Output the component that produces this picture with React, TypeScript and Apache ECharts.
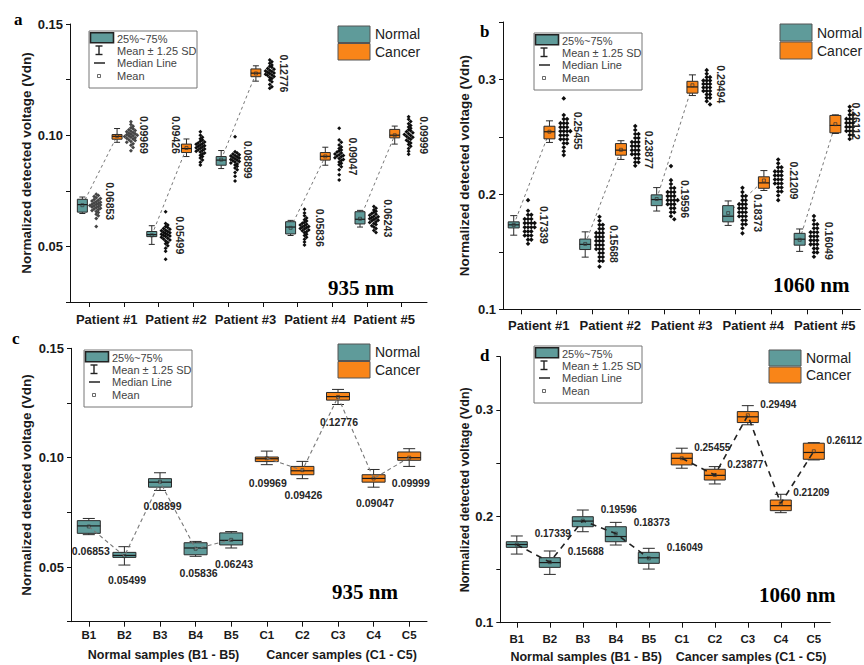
import React, { useEffect, useRef } from 'react';
import * as echarts from 'echarts';

// ---------------- data ----------------
const patientLabels = ['Patient #1', 'Patient #2', 'Patient #3', 'Patient #4', 'Patient #5'];
const normalSampleLabels = ['B1', 'B2', 'B3', 'B4', 'B5'];
const cancerSampleLabels = ['C1', 'C2', 'C3', 'C4', 'C5'];
const sampleGroupLabels = ['Normal samples (B1 - B5)', 'Cancer samples (C1 - C5)'];
const wavelengthLabels = ['935 nm', '1060 nm'];
const legendLabels = ['Normal', 'Cancer'];
const boxLegendLabels = ['25%~75%', 'Mean \u00b1 1.25 SD', 'Median Line', 'Mean'];
const panelLetters = ['a', 'b', 'c', 'd'];
const yAxisTitle = 'Normalized detected voltage (Vdn)';

const mean935Normal = [0.06853, 0.05499, 0.08899, 0.05836, 0.06243];
const mean935Cancer = [0.09969, 0.09426, 0.12776, 0.09047, 0.09999];
const mean1060Normal = [0.17339, 0.15688, 0.19596, 0.18373, 0.16049];
const mean1060Cancer = [0.25455, 0.23877, 0.29494, 0.21209, 0.26112];

// [mean - 1.25 SD, Q1, median, Q3, mean + 1.25 SD]
const box935Normal = [
  [0.0648, 0.0654, 0.0688, 0.0712, 0.0722],
  [0.0509, 0.0544, 0.0553, 0.0567, 0.0593],
  [0.0850, 0.0865, 0.0888, 0.0904, 0.0931],
  [0.0549, 0.0556, 0.0587, 0.0611, 0.0617],
  [0.0587, 0.0601, 0.0622, 0.0656, 0.0662],
];
const box935Cancer = [
  [0.0968, 0.0982, 0.0995, 0.1003, 0.1030],
  [0.0904, 0.0922, 0.0940, 0.0960, 0.0983],
  [0.1243, 0.1263, 0.1279, 0.1298, 0.1312],
  [0.0865, 0.0888, 0.0905, 0.0922, 0.0946],
  [0.0960, 0.0988, 0.1000, 0.1026, 0.1041],
];
const box1060Normal = [
  [0.1645, 0.1708, 0.1735, 0.1761, 0.1815],
  [0.1454, 0.1520, 0.1565, 0.1611, 0.1674],
  [0.1855, 0.1902, 0.1955, 0.1996, 0.2059],
  [0.1730, 0.1761, 0.1810, 0.1902, 0.1943],
  [0.1504, 0.1558, 0.1610, 0.1661, 0.1699],
];
const box1060Cancer = [
  [0.2452, 0.2483, 0.2545, 0.2593, 0.2640],
  [0.2304, 0.2341, 0.2385, 0.2442, 0.2467],
  [0.2860, 0.2881, 0.2935, 0.2984, 0.3040],
  [0.2034, 0.2053, 0.2100, 0.2153, 0.2207],
  [0.2530, 0.2536, 0.2600, 0.2687, 0.2692],
];

// individual measurements (panels a, b)
const cloud935Normal = [
  [0.0589, 0.0625, 0.0638, 0.0645, 0.0652, 0.0657, 0.0661, 0.0665, 0.0668, 0.0671, 0.0674, 0.0677, 0.0679, 0.0682, 0.0684, 0.0686, 0.0688, 0.0690, 0.0693, 0.0695, 0.0698, 0.0701, 0.0704, 0.0707, 0.0711, 0.0715, 0.0719, 0.0724, 0.0729, 0.0734],
  [0.0442, 0.0478, 0.0492, 0.0503, 0.0512, 0.0518, 0.0524, 0.0529, 0.0533, 0.0537, 0.0541, 0.0544, 0.0547, 0.0550, 0.0552, 0.0555, 0.0558, 0.0561, 0.0564, 0.0567, 0.0570, 0.0573, 0.0577, 0.0581, 0.0585, 0.0590, 0.0596, 0.0603, 0.0656],
  [0.0794, 0.0815, 0.0832, 0.0845, 0.0853, 0.0860, 0.0866, 0.0871, 0.0875, 0.0879, 0.0882, 0.0885, 0.0888, 0.0891, 0.0894, 0.0897, 0.0900, 0.0903, 0.0906, 0.0909, 0.0912, 0.0916, 0.0920, 0.0926, 0.0993],
  [0.0506, 0.0520, 0.0532, 0.0541, 0.0549, 0.0555, 0.0561, 0.0566, 0.0570, 0.0574, 0.0578, 0.0581, 0.0584, 0.0587, 0.0590, 0.0593, 0.0596, 0.0600, 0.0604, 0.0609, 0.0614, 0.0620, 0.0628, 0.0638, 0.0650, 0.0667],
  [0.0563, 0.0572, 0.0580, 0.0587, 0.0593, 0.0598, 0.0603, 0.0607, 0.0611, 0.0615, 0.0618, 0.0621, 0.0624, 0.0627, 0.0630, 0.0633, 0.0636, 0.0640, 0.0644, 0.0648, 0.0653, 0.0658, 0.0664, 0.0671, 0.0679],
];
const cloud935Cancer = [
  [0.0930, 0.0945, 0.0955, 0.0962, 0.0968, 0.0972, 0.0976, 0.0980, 0.0983, 0.0986, 0.0989, 0.0991, 0.0994, 0.0996, 0.0998, 0.1000, 0.1002, 0.1004, 0.1007, 0.1009, 0.1012, 0.1015, 0.1018, 0.1021, 0.1025, 0.1029, 0.1034, 0.1040, 0.1048, 0.1061],
  [0.0866, 0.0878, 0.0889, 0.0897, 0.0904, 0.0910, 0.0915, 0.0920, 0.0924, 0.0928, 0.0931, 0.0935, 0.0938, 0.0941, 0.0944, 0.0947, 0.0950, 0.0953, 0.0956, 0.0959, 0.0962, 0.0965, 0.0969, 0.0973, 0.0978, 0.0984, 0.0991, 0.1000, 0.1016],
  [0.1211, 0.1218, 0.1228, 0.1240, 0.1248, 0.1255, 0.1260, 0.1264, 0.1268, 0.1271, 0.1274, 0.1277, 0.1280, 0.1283, 0.1286, 0.1289, 0.1292, 0.1296, 0.1300, 0.1305, 0.1310, 0.1316, 0.1323, 0.1330, 0.1338],
  [0.0799, 0.0822, 0.0845, 0.0858, 0.0867, 0.0874, 0.0880, 0.0886, 0.0891, 0.0895, 0.0899, 0.0903, 0.0906, 0.0909, 0.0912, 0.0916, 0.0920, 0.0924, 0.0929, 0.0934, 0.0940, 0.0947, 0.0956, 0.0968, 0.0978, 0.1031],
  [0.0914, 0.0928, 0.0940, 0.0950, 0.0958, 0.0965, 0.0971, 0.0977, 0.0982, 0.0987, 0.0991, 0.0995, 0.0999, 0.1003, 0.1007, 0.1011, 0.1015, 0.1020, 0.1025, 0.1031, 0.1037, 0.1044, 0.1052, 0.1062, 0.1072, 0.1083],
];
const cloud1060Normal = [
  [0.1950, 0.1857, 0.1822, 0.1822, 0.1786, 0.1786, 0.1786, 0.1750, 0.1750, 0.1750, 0.1750, 0.1714, 0.1714, 0.1714, 0.1714, 0.1678, 0.1678, 0.1678, 0.1642, 0.1642, 0.1642, 0.1606, 0.1606, 0.1570],
  [0.1805, 0.1770, 0.1735, 0.1735, 0.1700, 0.1700, 0.1665, 0.1665, 0.1665, 0.1630, 0.1630, 0.1630, 0.1595, 0.1595, 0.1595, 0.1560, 0.1560, 0.1560, 0.1525, 0.1525, 0.1525, 0.1490, 0.1490, 0.1455, 0.1455, 0.1420, 0.1420, 0.1371],
  [0.2246, 0.2124, 0.2090, 0.2055, 0.2055, 0.2020, 0.2020, 0.2020, 0.1985, 0.1985, 0.1985, 0.1950, 0.1950, 0.1950, 0.1950, 0.1915, 0.1915, 0.1915, 0.1880, 0.1880, 0.1845, 0.1845, 0.1810, 0.1783],
  [0.2057, 0.2020, 0.1985, 0.1985, 0.1950, 0.1950, 0.1915, 0.1915, 0.1915, 0.1880, 0.1880, 0.1880, 0.1845, 0.1845, 0.1845, 0.1810, 0.1810, 0.1810, 0.1775, 0.1775, 0.1740, 0.1740, 0.1705, 0.1661],
  [0.1811, 0.1775, 0.1740, 0.1740, 0.1705, 0.1705, 0.1670, 0.1670, 0.1670, 0.1635, 0.1635, 0.1635, 0.1600, 0.1600, 0.1600, 0.1565, 0.1565, 0.1565, 0.1530, 0.1530, 0.1495, 0.1495, 0.1457],
];
const cloud1060Cancer = [
  [0.2835, 0.2690, 0.2655, 0.2655, 0.2620, 0.2620, 0.2620, 0.2585, 0.2585, 0.2585, 0.2550, 0.2550, 0.2550, 0.2550, 0.2515, 0.2515, 0.2515, 0.2480, 0.2480, 0.2480, 0.2445, 0.2445, 0.2410, 0.2375, 0.2342],
  [0.2594, 0.2560, 0.2525, 0.2525, 0.2490, 0.2490, 0.2455, 0.2455, 0.2455, 0.2420, 0.2420, 0.2420, 0.2385, 0.2385, 0.2385, 0.2350, 0.2350, 0.2350, 0.2315, 0.2315, 0.2280, 0.2280, 0.2249],
  [0.3081, 0.3050, 0.3020, 0.3020, 0.2990, 0.2990, 0.2990, 0.2960, 0.2960, 0.2960, 0.2930, 0.2930, 0.2930, 0.2900, 0.2900, 0.2900, 0.2870, 0.2870, 0.2840, 0.2840, 0.2810, 0.2783],
  [0.2304, 0.2270, 0.2235, 0.2235, 0.2200, 0.2200, 0.2200, 0.2165, 0.2165, 0.2165, 0.2130, 0.2130, 0.2130, 0.2095, 0.2095, 0.2095, 0.2060, 0.2060, 0.2025, 0.2025, 0.1990, 0.1950],
  [0.2762, 0.2727, 0.2692, 0.2692, 0.2657, 0.2657, 0.2657, 0.2622, 0.2622, 0.2622, 0.2587, 0.2587, 0.2587, 0.2552, 0.2552, 0.2552, 0.2517, 0.2517, 0.2482],
];

// ---------------- styles ----------------
const SANS = '"Liberation Sans", Arial, Helvetica, sans-serif';
const SERIF = '"Liberation Serif", "Times New Roman", serif';
const TEAL = '#5f9b9a';
const ORANGE = '#f98518';
const INK = '#1a1a1a';

// label pixel offsets from the (box, mean) anchor
const labelOffsetA = [[28, -4], [27, -1], [28, 0], [-10, -13], [27, 0], [28, 0], [29, 0], [28, 0], [28, -0.5], [29, 0]];
const labelOffsetB = [[30, 0], [29, -1], [29, 0], [28, 0], [28.5, 0], [29, -1], [30, 0], [30, 0], [29, 1], [21, -3]];
const labelOffsetC = [[2, 24.5], [2.6, 24], [2.5, 24.3], [3, 24.6], [2.8, 24.5], [1, 25], [1, 24.8], [1, 24.8], [1.4, 24.8], [1.6, 25.6]];
const labelOffsetD = [[36, -11], [36, -11], [36, -11], [36, -11], [36, -11], [30.5, -11], [30.5, -11], [30.5, -11], [30.5, -11], [30.5, -11]];

// ---------------- helpers ----------------
function swarm(ys: number[], step: number, minDist: number): number[] {
  const order = ys.map((_, i) => i).sort((a, b) => ys[a] - ys[b]);
  const placed: { x: number; y: number }[] = [];
  const xs = new Array(ys.length).fill(0);
  for (const i of order) {
    const y = ys[i];
    for (let k = 0; k < 60; k++) {
      const off = k === 0 ? 0 : (k % 2 === 1 ? 1 : -1) * Math.ceil(k / 2) * step;
      let ok = true;
      for (const p of placed) {
        const dx = p.x - off;
        const dy = p.y - y;
        if (dx * dx + dy * dy < minDist * minDist - 1e-6) { ok = false; break; }
      }
      if (ok) { xs[i] = off; placed.push({ x: off, y }); break; }
    }
  }
  return xs;
}

function boxRenderer(boxW: number, capW: number) {
  return (params: any, api: any) => {
    const x = api.value(0);
    const pWl = api.coord([x, api.value(1)]);
    const pQ1 = api.coord([x, api.value(2)]);
    const pMed = api.coord([x, api.value(3)]);
    const pQ3 = api.coord([x, api.value(4)]);
    const pWh = api.coord([x, api.value(5)]);
    const pMean = api.coord([x, api.value(6)]);
    const cx = pQ1[0];
    const fill = api.value(7) === 0 ? TEAL : ORANGE;
    const ln = { stroke: '#2a2a2a', lineWidth: 1 };
    return {
      type: 'group',
      children: [
        { type: 'line', shape: { x1: cx, y1: pWh[1], x2: cx, y2: pQ3[1] }, style: ln },
        { type: 'line', shape: { x1: cx, y1: pQ1[1], x2: cx, y2: pWl[1] }, style: ln },
        { type: 'line', shape: { x1: cx - capW / 2, y1: pWh[1], x2: cx + capW / 2, y2: pWh[1] }, style: ln },
        { type: 'line', shape: { x1: cx - capW / 2, y1: pWl[1], x2: cx + capW / 2, y2: pWl[1] }, style: ln },
        { type: 'rect', shape: { x: cx - boxW / 2, y: pQ3[1], width: boxW, height: pQ1[1] - pQ3[1] }, style: { fill, stroke: '#2a2a2a', lineWidth: 1 } },
        { type: 'line', shape: { x1: cx - boxW / 2, y1: pMed[1], x2: cx + boxW / 2, y2: pMed[1] }, style: { stroke: '#1a1a1a', lineWidth: 1.2 } },
        { type: 'rect', shape: { x: cx - 1.5, y: pMean[1] - 1.5, width: 3, height: 3 }, style: { fill: 'none', stroke: '#333', lineWidth: 0.7 } },
      ],
    };
  };
}

function cloudRenderer(clouds: number[][], colors: string[], size: number, step: number, minDist: number) {
  return (params: any, api: any) => {
    const x = api.value(0);
    const vals = clouds[params.dataIndex];
    const pts = vals.map((v) => api.coord([x, v]));
    const offs = swarm(pts.map((p: number[]) => p[1]), step, minDist);
    const r = size / 2;
    return {
      type: 'group',
      children: pts.map((p: number[], i: number) => {
        const px = p[0] + offs[i];
        const py = p[1];
        return {
          type: 'polygon',
          shape: { points: [[px, py - r], [px + r, py], [px, py + r], [px - r, py]] },
          style: { fill: colors[params.dataIndex] },
        };
      }),
    };
  };
}

function labelRenderer(offsets: number[][], rotation: number, fontSize: number) {
  return (params: any, api: any) => {
    const v = api.value(1);
    const p = api.coord([api.value(0), v]);
    const o = offsets[params.dataIndex];
    return {
      type: 'text',
      x: p[0] + o[0],
      y: p[1] + o[1],
      rotation,
      style: {
        text: Number(v).toFixed(5),
        fill: '#262626',
        fontSize,
        fontWeight: 'bold',
        fontFamily: SANS,
        align: 'center',
        verticalAlign: 'middle',
        textAlign: 'center',
        textVerticalAlign: 'middle',
      },
    };
  };
}

const yFormatter = (step: number, digits: number) => (v: number) =>
  Math.round(v / step) % 2 === 0 ? v.toFixed(digits) : '';

const tickPositions = Array.from({ length: 10 }, (_, i) => i + 0.5);
const pairCenters = Array.from({ length: 5 }, (_, i) => 2 * i + 1);

function txt(text: string, x: number, y: number, font: string, fill: string, align = 'left') {
  return {
    type: 'text',
    x,
    y,
    silent: true,
    style: { text, font, fill, align, verticalAlign: 'middle', textAlign: align, textVerticalAlign: 'middle' },
  };
}

function boxLegend(x0: number, y0: number) {
  const f = `11px ${SANS}`;
  const c = '#444';
  return [
    { type: 'rect', shape: { x: x0, y: y0, width: 108, height: 57 }, style: { fill: '#fff', stroke: '#777', lineWidth: 1 } },
    { type: 'rect', shape: { x: x0 + 1.5, y: y0 + 1.8, width: 23, height: 10 }, style: { fill: TEAL, stroke: '#222', lineWidth: 1.6 } },
    txt(boxLegendLabels[0], x0 + 28, y0 + 7.5, f, c),
    { type: 'line', shape: { x1: x0 + 10, y1: y0 + 15, x2: x0 + 10, y2: y0 + 23.5 }, style: { stroke: '#222', lineWidth: 1.4 } },
    { type: 'line', shape: { x1: x0 + 6.5, y1: y0 + 15, x2: x0 + 13.5, y2: y0 + 15 }, style: { stroke: '#222', lineWidth: 1.4 } },
    { type: 'line', shape: { x1: x0 + 6.5, y1: y0 + 23.5, x2: x0 + 13.5, y2: y0 + 23.5 }, style: { stroke: '#222', lineWidth: 1.4 } },
    txt(boxLegendLabels[1], x0 + 28, y0 + 19.5, f, c),
    { type: 'line', shape: { x1: x0 + 5, y1: y0 + 32, x2: x0 + 16, y2: y0 + 32 }, style: { stroke: '#222', lineWidth: 1.5 } },
    txt(boxLegendLabels[2], x0 + 28, y0 + 32, f, c),
    { type: 'rect', shape: { x: x0 + 8.5, y: y0 + 43.5, width: 3, height: 3 }, style: { fill: 'none', stroke: '#444', lineWidth: 0.8 } },
    txt(boxLegendLabels[3], x0 + 28, y0 + 45, f, c),
  ];
}

function groupLegend(x0: number, y0: number, h: number) {
  const f = `14px ${SANS}`;
  return [
    { type: 'rect', shape: { x: x0, y: y0, width: 32, height: h }, style: { fill: TEAL, stroke: '#555', lineWidth: 1 } },
    { type: 'rect', shape: { x: x0, y: y0 + h + 1, width: 32, height: h }, style: { fill: ORANGE, stroke: '#555', lineWidth: 1 } },
    txt(legendLabels[0], x0 + 37, y0 + h / 2, f, '#222'),
    txt(legendLabels[1], x0 + 37, y0 + h * 1.5 + 1, f, '#222'),
  ];
}

function yAxisCfg(gridIndex: number, min: number, max: number, interval: number, digits: number, nameGap: number, nameSize: number) {
  return {
    gridIndex,
    type: 'value',
    min,
    max,
    interval,
    name: yAxisTitle,
    nameLocation: 'middle',
    nameGap,
    nameTextStyle: { fontSize: nameSize, fontWeight: 'bold', fontFamily: SANS, color: INK },
    axisLine: { show: true, onZero: false, lineStyle: { color: '#111', width: 1 } },
    axisTick: { show: true, inside: false, length: 4, lineStyle: { color: '#111' } },
    axisLabel: { formatter: yFormatter(interval, digits), margin: 7, fontSize: 13, fontWeight: 'bold', fontFamily: SANS, color: INK },
    splitLine: { show: false },
  };
}

function xAxisCfg(gridIndex: number, min: number, max: number, labelValues: number[], formatter: (v: number) => string, margin: number, fontSize: number) {
  return {
    gridIndex,
    type: 'value',
    min,
    max,
    splitLine: { show: false },
    axisLine: { show: true, onZero: false, lineStyle: { color: '#111', width: 1 } },
    axisTick: { show: true, inside: false, customValues: tickPositions, length: 5, lineStyle: { color: '#111' } },
    axisLabel: { customValues: labelValues, formatter, margin, fontSize, fontWeight: 'bold', fontFamily: SANS, color: INK },
  };
}

function nameAxisCfg(gridIndex: number, min: number, max: number, margin: number) {
  return {
    gridIndex,
    type: 'value',
    min,
    max,
    position: 'bottom',
    splitLine: { show: false },
    axisLine: { show: false, onZero: false },
    axisTick: { show: false },
    axisLabel: {
      customValues: [2.6, 7.6],
      formatter: (v: number) => sampleGroupLabels[v < 5 ? 0 : 1],
      margin,
      fontSize: 12.5,
      fontWeight: 'bold',
      fontFamily: SANS,
      color: INK,
    },
  };
}

function buildOption() {
  const pairedBoxData = (bn: number[][], bc: number[][], mn: number[], mc: number[]) => {
    const out: number[][] = [];
    for (let j = 0; j < 5; j++) {
      out.push([2 * j + 0.5 - 0.2, ...bn[j], mn[j], 0]);
      out.push([2 * j + 1.5 - 0.2, ...bc[j], mc[j], 1]);
    }
    return out;
  };
  const groupedBoxData = (bn: number[][], bc: number[][], mn: number[], mc: number[]) => {
    const out: number[][] = [];
    for (let j = 0; j < 5; j++) out.push([j + 0.5, ...bn[j], mn[j], 0]);
    for (let j = 0; j < 5; j++) out.push([5 + j + 0.5, ...bc[j], mc[j], 1]);
    return out;
  };
  const interleave = (n: number[][], c: number[][]) => {
    const out: number[][] = [];
    for (let j = 0; j < 5; j++) { out.push(n[j]); out.push(c[j]); }
    return out;
  };
  const pairedMeans = (mn: number[], mc: number[], shift: number) => {
    const out: number[][] = [];
    for (let j = 0; j < 5; j++) {
      out.push([2 * j + 0.5 + shift, mn[j]]);
      out.push([2 * j + 1.5 + shift, mc[j]]);
    }
    return out;
  };
  const groupedMeans = (mn: number[], mc: number[]) => [
    ...mn.map((m, j) => [j + 0.5, m]),
    ...mc.map((m, j) => [5 + j + 0.5, m]),
  ];

  const boxA = pairedBoxData(box935Normal, box935Cancer, mean935Normal, mean935Cancer);
  const boxB = pairedBoxData(box1060Normal, box1060Cancer, mean1060Normal, mean1060Cancer);
  const boxC = groupedBoxData(box935Normal, box935Cancer, mean935Normal, mean935Cancer);
  const boxD = groupedBoxData(box1060Normal, box1060Cancer, mean1060Normal, mean1060Cancer);

  const cloudsA = interleave(cloud935Normal, cloud935Cancer);
  const cloudsB = interleave(cloud1060Normal, cloud1060Cancer);
  const cloudColorsA = cloudsA.map((_, i) => (i < 2 ? '#464646' : '#0d0d0d'));
  const cloudColorsB = cloudsB.map(() => '#0d0d0d');

  const series: any[] = [];
  const dims = ['x', 'wl', 'q1', 'med', 'q3', 'wh', 'mean', 'g'];

  const addPairLines = (axis: number, mn: number[], mc: number[]) => {
    for (let j = 0; j < 5; j++) {
      series.push({
        type: 'line', xAxisIndex: axis, yAxisIndex: axis, silent: true, symbol: 'none', z: 1,
        data: [[2 * j + 0.5 - 0.2, mn[j]], [2 * j + 1.5 - 0.2, mc[j]]],
        lineStyle: { type: [3, 3], color: '#777', width: 1 },
      });
    }
  };
  addPairLines(0, mean935Normal, mean935Cancer);
  addPairLines(1, mean1060Normal, mean1060Cancer);

  const addBoxes = (axis: number, data: number[][], w: number, cap: number) => {
    series.push({
      type: 'custom', xAxisIndex: axis, yAxisIndex: axis, silent: true, z: 2,
      dimensions: dims, encode: { x: 0, y: [1, 5] },
      renderItem: boxRenderer(w, cap), data,
    });
  };
  addBoxes(0, boxA, 10, 6);
  addBoxes(1, boxB, 11, 7);
  addBoxes(2, boxC, 23, 12);
  addBoxes(3, boxD, 21, 12);

  const addClouds = (axis: number, means: number[][], clouds: number[][], colors: string[], size: number, step: number, md: number) => {
    series.push({
      type: 'custom', xAxisIndex: axis, yAxisIndex: axis, silent: true, z: 3,
      encode: { x: 0, y: 1 },
      renderItem: cloudRenderer(clouds, colors, size, step, md),
      data: means,
    });
  };
  addClouds(0, pairedMeans(mean935Normal, mean935Cancer, 0.2), cloudsA, cloudColorsA, 4, 2.1, 2.3);
  addClouds(1, pairedMeans(mean1060Normal, mean1060Cancer, 0.2), cloudsB, cloudColorsB, 4.6, 3.3, 3.2);

  const addChain = (axis: number, mn: number[], mc: number[], color: string, width: number, dash: number[]) => {
    [mn, mc].forEach((arr, g) => {
      series.push({
        type: 'line', xAxisIndex: axis, yAxisIndex: axis, silent: true, symbol: 'none', z: 3,
        data: arr.map((m, j) => [g * 5 + j + 0.5, m]),
        lineStyle: { type: dash, color, width },
      });
    });
  };
  addChain(2, mean935Normal, mean935Cancer, '#777', 1.1, [4, 3]);
  addChain(3, mean1060Normal, mean1060Cancer, '#222', 1.6, [6, 5]);

  const addLabels = (axis: number, data: number[][], offsets: number[][], rot: number, fs: number) => {
    series.push({
      type: 'custom', xAxisIndex: axis, yAxisIndex: axis, silent: true, z: 5,
      encode: { x: 0, y: 1 },
      renderItem: labelRenderer(offsets, rot, fs), data,
    });
  };
  addLabels(0, pairedMeans(mean935Normal, mean935Cancer, -0.2), labelOffsetA, -Math.PI / 2, 10.5);
  addLabels(1, pairedMeans(mean1060Normal, mean1060Cancer, -0.2), labelOffsetB, -Math.PI / 2, 10.5);
  addLabels(2, groupedMeans(mean935Normal, mean935Cancer), labelOffsetC, 0, 10.5);
  addLabels(3, groupedMeans(mean1060Normal, mean1060Cancer), labelOffsetD, 0, 10);

  const sampleLabels = [...normalSampleLabels, ...cancerSampleLabels];
  const patientFmt = (v: number) => patientLabels[Math.round((v - 1) / 2)] || '';
  const sampleFmt = (v: number) => sampleLabels[Math.round(v - 0.5)] || '';

  const letterFont = `bold 17px ${SERIF}`;
  const nmFont = `bold 21px ${SERIF}`;

  const graphic = [
    ...boxLegend(89, 31),
    ...boxLegend(534, 33),
    ...boxLegend(84, 350),
    ...boxLegend(534, 346),
    ...groupLegend(338, 26, 16.5),
    ...groupLegend(780, 24, 17),
    ...groupLegend(338, 344, 16.5),
    ...groupLegend(769, 350, 16),
    txt(panelLetters[0], 14, 19, letterFont, '#000'),
    txt(panelLetters[1], 480, 31, letterFont, '#000'),
    txt(panelLetters[2], 12, 338, letterFont, '#000'),
    txt(panelLetters[3], 480, 355, letterFont, '#000'),
    txt(wavelengthLabels[0], 328, 288, nmFont, '#000'),
    txt(wavelengthLabels[1], 773, 285, nmFont, '#000'),
    txt(wavelengthLabels[0], 332, 592, nmFont, '#000'),
    txt(wavelengthLabels[1], 759, 595, nmFont, '#000'),
  ];

  return {
    animation: false,
    backgroundColor: '#ffffff',
    textStyle: { fontFamily: SANS },
    grid: [
      { left: 70, top: 24, width: 357, height: 278, outerBoundsMode: 'none' },
      { left: 503, top: 22, width: 357.4, height: 287.3, outerBoundsMode: 'none' },
      { left: 71, top: 348.3, width: 356, height: 273.4, outerBoundsMode: 'none' },
      { left: 500.3, top: 356.7, width: 330, height: 266, outerBoundsMode: 'none' },
    ],
    xAxis: [
      xAxisCfg(0, -0.056, 10.23, pairCenters, patientFmt, 11, 13),
      xAxisCfg(1, 0, 10, pairCenters, patientFmt, 10, 13),
      xAxisCfg(2, 0, 10, tickPositions, sampleFmt, 7.5, 11.5),
      xAxisCfg(3, 0, 10, tickPositions, sampleFmt, 10, 11.5),
      nameAxisCfg(2, 0, 10, 27),
      nameAxisCfg(3, 0, 10, 28),
    ],
    yAxis: [
      yAxisCfg(0, 0.025, 0.15, 0.025, 2, 36, 13.5),
      yAxisCfg(1, 0.1, 0.35, 0.05, 1, 32, 13.5),
      yAxisCfg(2, 0.025, 0.15, 0.025, 2, 38, 13.5),
      yAxisCfg(3, 0.1, 0.35, 0.05, 1, 29, 12.5),
    ],
    series,
    graphic,
  };
}

export default function App() {
  const ref = useRef<HTMLDivElement>(null);
  useEffect(() => {
    document.body.style.margin = '0';
    if (!ref.current) return;
    const chart = echarts.init(ref.current, undefined, { renderer: 'svg' });
    chart.setOption(buildOption() as any);
    return () => chart.dispose();
  }, []);
  return <div ref={ref} style={{ width: 864, height: 665, background: '#fff' }} />;
}
